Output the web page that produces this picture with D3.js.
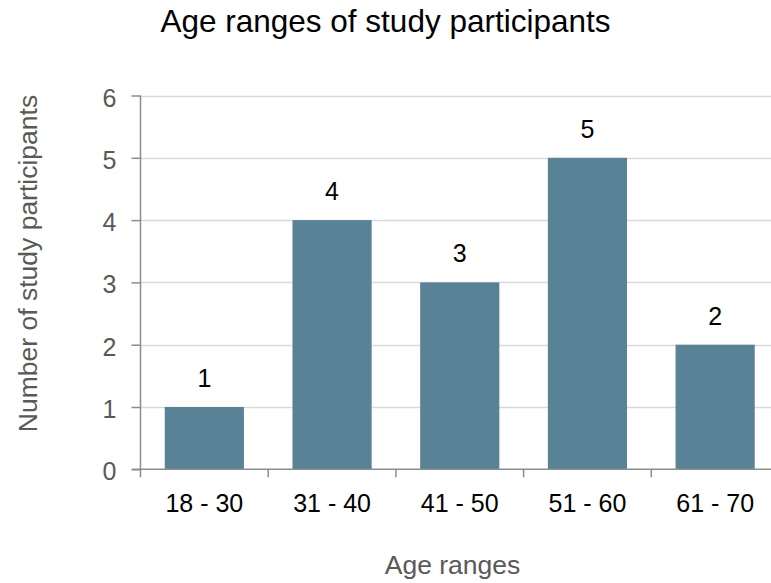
<!DOCTYPE html>
<html><head><meta charset="utf-8">
<script src="https://cdn.jsdelivr.net/npm/d3@7"></script>
<style>body{margin:0;background:#fff}svg{display:block;font-family:Arial,"Liberation Sans",sans-serif}</style>
</head><body><svg id="c" width="771" height="583"></svg>
<script>
const categories = ["18 - 30","31 - 40","41 - 50","51 - 60","61 - 70"];
const values = [1,4,3,5,2];
const yTicks = [0,1,2,3,4,5,6];
const title = "Age ranges of study participants";
const xTitle = "Age ranges";
const yTitle = "Number of study participants";

const FONT = "Arial,'Liberation Sans',sans-serif";
const svg = d3.select("#c");
const x = d3.scaleBand().domain(categories).range([140.5, 779]).paddingInner(0.38).paddingOuter(0.19);
const y = d3.scaleLinear().domain([0,6]).range([469.3, 95.5]);

// gridlines
svg.append("g").selectAll("line").data(yTicks.filter(d=>d>0)).join("line")
  .attr("x1",140.5).attr("x2",771).attr("y1",d=>Math.round(y(d))+0.5).attr("y2",d=>Math.round(y(d))+0.5)
  .attr("stroke","#d9d9d9").attr("stroke-width",1.3);

// bars
svg.append("g").selectAll("rect").data(values).join("rect")
  .attr("x",(d,i)=>x(categories[i])).attr("width",x.bandwidth())
  .attr("y",d=>y(d)).attr("height",d=>y(0)-y(d))
  .attr("fill","#5a8296");

// value labels
svg.append("g").selectAll("text").data(values).join("text")
  .attr("x",(d,i)=>x(categories[i])+x.bandwidth()/2).attr("y",d=>y(d)-20)
  .attr("text-anchor","middle").attr("font-size",25).attr("fill","#000").text(d=>d);

// y axis
const ya = svg.append("g").attr("transform","translate(140.5,0)")
  .call(d3.axisLeft(y).tickValues(yTicks).tickSize(9).tickPadding(15).tickFormat(d3.format("d")));
ya.select(".domain").attr("stroke","#8c8c8c").attr("stroke-width",1.5).attr("d",`M0,${y(6)}V${y(0)}`);
ya.selectAll(".tick line").attr("stroke","#8c8c8c").attr("stroke-width",1.5);
ya.selectAll(".tick text").attr("font-size",25).attr("dy","0.42em").attr("fill","#595959").attr("font-family",FONT);

// x axis
const xa = svg.append("g").attr("transform",`translate(0,${y(0)})`)
  .call(d3.axisBottom(x).tickSize(0).tickPadding(0));
xa.select(".domain").attr("stroke","#8c8c8c").attr("stroke-width",1.5).attr("d","M132,0H771");
xa.selectAll(".tick text").attr("font-size",25).attr("dy",null).attr("y",43).attr("fill","#000").attr("font-family",FONT);
// category boundary ticks
const step = x.step();
const bounds = d3.range(categories.length+1).map(i=>140.5+i*step);
xa.append("g").selectAll("line").data(bounds).join("line")
  .attr("x1",d=>d).attr("x2",d=>d).attr("y1",0).attr("y2",8)
  .attr("stroke","#8c8c8c").attr("stroke-width",1.5);

// titles
svg.append("text").attr("x",385.5).attr("y",32).attr("text-anchor","middle")
  .attr("font-size",31.5).attr("fill","#000").text(title);
svg.append("text").attr("x",452.5).attr("y",574).attr("text-anchor","middle")
  .attr("font-size",26.5).attr("fill","#595959").text(xTitle);
svg.append("text").attr("transform","translate(37,263.5) rotate(-90)").attr("text-anchor","middle")
  .attr("font-size",26.5).attr("fill","#595959").text(yTitle);
</script></body></html>
